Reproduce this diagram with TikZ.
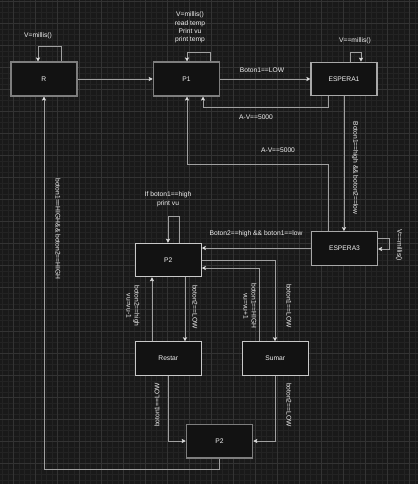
\documentclass[tikz,border=0pt]{standalone}
\usepackage{fontspec}
\setmainfont{Liberation Sans}
\usetikzlibrary{arrows.meta}
\definecolor{bgc}{HTML}{191919}
\definecolor{minorc}{HTML}{232323}
\definecolor{majorc}{HTML}{333333}
\definecolor{boxfill}{HTML}{121212}
\definecolor{linec}{HTML}{A0A0A0}
\definecolor{txtc}{HTML}{F2F2F2}
\definecolor{bordA}{HTML}{7E7E7E}
\definecolor{bordB}{HTML}{A8A8A8}
\definecolor{bordC}{HTML}{C8C8C8}
\begin{document}
\begin{tikzpicture}[x=1pt,y=-1pt,
  stbox/.style={draw=bordB,line width=1.2pt,fill=boxfill,minimum width=66pt,minimum height=33.5pt,inner sep=0pt,text=txtc,font=\fontsize{6.7}{8}\selectfont},
  boxA/.style={stbox,draw=bordA,line width=1.6pt},
  boxC/.style={stbox,draw=bordC,line width=1pt},
  lbl/.style={text=txtc,font=\fontsize{6.7}{8}\selectfont,inner sep=0pt,align=center},
  conn/.style={draw=linec,line width=0.9pt,-{Stealth[length=4pt,width=4.2pt,inset=0.8pt,color=white!85!black]}},
  minorg/.style={draw=minorc,line width=0.5pt},
  majorg/.style={draw=majorc,line width=0.7pt}]
\useasboundingbox (0,0) rectangle (418,484);
\fill[bgc] (0,0) rectangle (418,484);
% grid
\foreach \i in {0,...,75} {\draw[minorg] ({2.3+5.5*\i},0) -- ({2.3+5.5*\i},484);}
\foreach \i in {0,...,87} {\draw[minorg] (0,{1.3+5.5*\i}) -- (418,{1.3+5.5*\i});}
\foreach \i in {0,...,18} {\draw[majorg] ({13.3+22*\i},0) -- ({13.3+22*\i},484);}
\foreach \i in {0,...,21} {\draw[majorg] (0,{1.3+22*\i}) -- (418,{1.3+22*\i});}

% boxes
\node[boxA] (R) at (43.9,79) {R};
\node[boxA] (P1) at (186.5,79) {P1};
\node[stbox] (E1) at (344,79) {ESPERA1};
\node[stbox] (E3) at (344.5,248.5) {ESPERA3};
\node[boxC] (P2u) at (168.3,260) {P2};
\node[boxC] (Rs) at (168.3,358.5) {Restar};
\node[boxC] (Sm) at (275.3,358.5) {Sumar};
\node[boxA] (P2l) at (219.5,441.3) {P2};

% bend coordinates
\coordinate (rl1) at (61,46);
\coordinate (rl2) at (38,46);
\coordinate (pl1) at (210,52);
\coordinate (pl2) at (187,52);
\coordinate (el1) at (350,52);
\coordinate (el2) at (361,52);
\coordinate (ep1) at (328,107);
\coordinate (ep2) at (203,107);
\coordinate (ea1) at (328,164);
\coordinate (ea2) at (187,164);
\coordinate (es1) at (389,238);
\coordinate (es2) at (389,249);
\coordinate (h248) at (0,248);
\coordinate (ul1) at (179,216);
\coordinate (ul2) at (168,216);
\coordinate (xa) at (185,0);
\coordinate (xb) at (152,0);
\coordinate (h260) at (275,260);
\coordinate (h268) at (259,268);
\coordinate (lr1) at (168,441);
\coordinate (ls1) at (275.7,441);
\coordinate (bt1) at (219.7,469);
\coordinate (bt2) at (44,469);

% connectors
\draw[conn] (R.north -| rl1) -- (rl1) -- (rl2) -- (R.north -| rl2);
\draw[conn] (R.east) -- (P1.west);
\draw[conn] (P1.north -| pl1) -- (pl1) -- (pl2) -- (P1.north -| pl2);
\draw[conn] (P1.east) -- (E1.west);
\draw[conn] (E1.south -| ep1) -- (ep1) -- (ep2) -- (P1.south -| ep2);
\draw[conn] (E1.north -| el1) -- (el1) -- (el2) -- (E1.north -| el2);
\draw[conn] (E1.south) -- (E1.south |- E3.north);
\draw[conn] (E3.north -| ea1) -- (ea1) -- (ea2) -- (P1.south -| ea2);
\draw[conn] (E3.east |- es1) -- (es1) -- (es2) -- (E3.east |- es2);
\draw[conn] (E3.west |- h248) -- (P2u.east |- h248);
\draw[conn] (P2u.north -| ul1) -- (ul1) -- (ul2) -- (P2u.north -| ul2);
\draw[conn] (P2u.south -| xa) -- (Rs.north -| xa);
\draw[conn] (Rs.north -| xb) -- (P2u.south -| xb);
\draw[conn] (P2u.east |- h260) -- (h260) -- (Sm.north -| h260);
\draw[conn] (Sm.north -| h268) -- (h268) -- (P2u.east |- h268);
\draw[conn] (Rs.south -| lr1) -- (lr1) -- (P2l.west |- lr1);
\draw[conn] (Sm.south -| ls1) -- (ls1) -- (P2l.east |- ls1);
\draw[conn] (P2l.south -| bt1) -- (bt1) -- (bt2) -- (R.south -| bt2);

% labels
\node[lbl] (tR) at (38,36) {V=millis()};
\node[lbl,font=\fontsize{6.7}{8.3}\selectfont] (tP1) at (190,27.5) {V=millis()\\read temp\\Print vu\\print temp};
\node[lbl] (tB1) at (262,70) {Boton1==LOW};
\node[lbl] (tAV1) at (256,117) {A-V==5000};
\node[lbl] (tE1) at (355,41) {V==millis()};
\node[lbl,rotate=-90] (tE1E3) at (355,168) {Boton1==high \&\& boton2==low};
\node[lbl] (tAV2) at (278,150) {A-V==5000};
\node[lbl,rotate=-90] (tE3) at (399,245) {V==millis()};
\node[lbl] (tE3P2) at (256,234) {Boton2==high \&\& boton1==low};
\node[lbl,font=\fontsize{6.7}{9.2}\selectfont] (tP2) at (168,199) {If boton1==high\\print vu};
\node[lbl,rotate=-90] (tPR) at (195,307) {boton2==LOW};
\node[lbl,rotate=-90] (tRP) at (133,306) {boton2==high\\vu=vu-1};
\node[lbl,rotate=-90] (tPS) at (289,306) {boton1==LOW};
\node[lbl,rotate=-90] (tSP) at (250,306) {boton1==HIGH\\vu=vu+1};
\node[lbl,rotate=90] (tRL) at (157,405) {boton1==LOW};
\node[lbl,rotate=-90] (tSL) at (289,405) {boton2==LOW};
\node[lbl,rotate=-90] (tBR) at (58,229) {boton1==HIGH\&\& boton2==HIGH};
\end{tikzpicture}
\end{document}
